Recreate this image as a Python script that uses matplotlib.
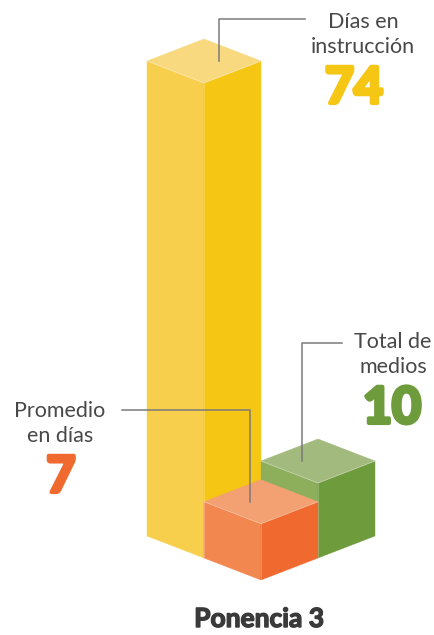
import matplotlib
matplotlib.use("Agg")
import matplotlib.pyplot as plt
from matplotlib.patches import Polygon
import matplotlib.patheffects as pe

# === datos ===
labels = ["Días en\ninstrucción", "Promedio\nen días", "Total de\nmedios"]
values = [74, 7, 10]
title = "Ponencia 3"

# === estilo ===
face_colors = [
    ("#F8D97F", "#F8CF4C", "#F6C614"),   # top, left, right
    ("#F3A073", "#F2874F", "#F0692F"),
    ("#A3BA7E", "#8DAF5C", "#6E9C3D"),
]
num_colors = ["#F6C614", "#F0692F", "#6E9C3D"]
grid_pos = [(0, 0), (1, 0), (1, 1)]     # (frente, fondo)
draw_order = [0, 2, 1]

ORIGIN = (204, 536)
HW, HD = 57, 22          # semiancho / semialto del rombo
SCALE, BASE = 6.25, -2   # px por unidad, inicio del eje

FONT = "Lato"
TXT = "#484848"
LINE = "#7a7a7a"

fig = plt.figure(figsize=(4.35, 6.35), dpi=100)
ax = fig.add_axes([0, 0, 1, 1])
ax.set_xlim(0, 435)
ax.set_ylim(635, 0)
ax.axis("off")


def box(i):
    fi, bi = grid_pos[i]
    cx = ORIGIN[0] + HW * (fi + bi)
    cy = ORIGIN[1] + HD * (fi - bi)
    h = SCALE * (values[i] - BASE)
    top_c, left_c, right_c = face_colors[i]
    top = [(cx - HW, cy - h), (cx, cy - h - HD), (cx + HW, cy - h), (cx, cy - h + HD)]
    left = [(cx - HW, cy - h), (cx, cy - h + HD), (cx, cy + HD), (cx - HW, cy)]
    right = [(cx, cy - h + HD), (cx + HW, cy - h), (cx + HW, cy), (cx, cy + HD)]
    for pts, c in ((left, left_c), (right, right_c), (top, top_c)):
        ax.add_patch(Polygon(pts, closed=True, facecolor=c, edgecolor=c, lw=0.3))
    # aristas claras
    ax.plot([cx - HW, cx, cx + HW], [cy - h, cy - h + HD, cy - h],
            color="white", alpha=0.35, lw=0.6)
    ax.plot([cx, cx], [cy - h + HD, cy + HD], color="white", alpha=0.25, lw=0.6)
    return cx, cy - h


tops = {}
for i in draw_order:
    tops[i] = box(i)

# === etiquetas y líneas guía ===
# (x texto, baseline 1a línea, x número, x vertical, y horizontal, x inicio horizontal)
label_pos = [(363, 28, 354, 219, 19, 305),
             (60, 417, 61, 250, 410, 122),
             (393, 348, 392, 302, 343, 342)]
for i, (tx, ty, nx, vx, hy, hx) in enumerate(label_pos):
    cx, ctop = tops[i]
    for k, line in enumerate(labels[i].split("\n")):
        ax.text(tx, ty + 25 * k, line, ha="center", va="baseline", fontsize=15.5,
                family=FONT, color=TXT)
    ax.text(nx, ty + 75, str(values[i]), ha="center", va="baseline", fontsize=36,
            family=FONT, weight="bold", color=num_colors[i],
            path_effects=[pe.Stroke(linewidth=3, foreground=num_colors[i]), pe.Normal()])
    ax.plot([hx, vx, vx], [hy, hy, ctop], color=LINE, lw=1.1)

ax.text(259, 627, title, ha="center", va="baseline", fontsize=19,
        family=FONT, weight="bold", color="#3a3a3a",
        path_effects=[pe.Stroke(linewidth=1, foreground="#3a3a3a"), pe.Normal()])

plt.savefig("out.png", dpi=100)
plt.close()
